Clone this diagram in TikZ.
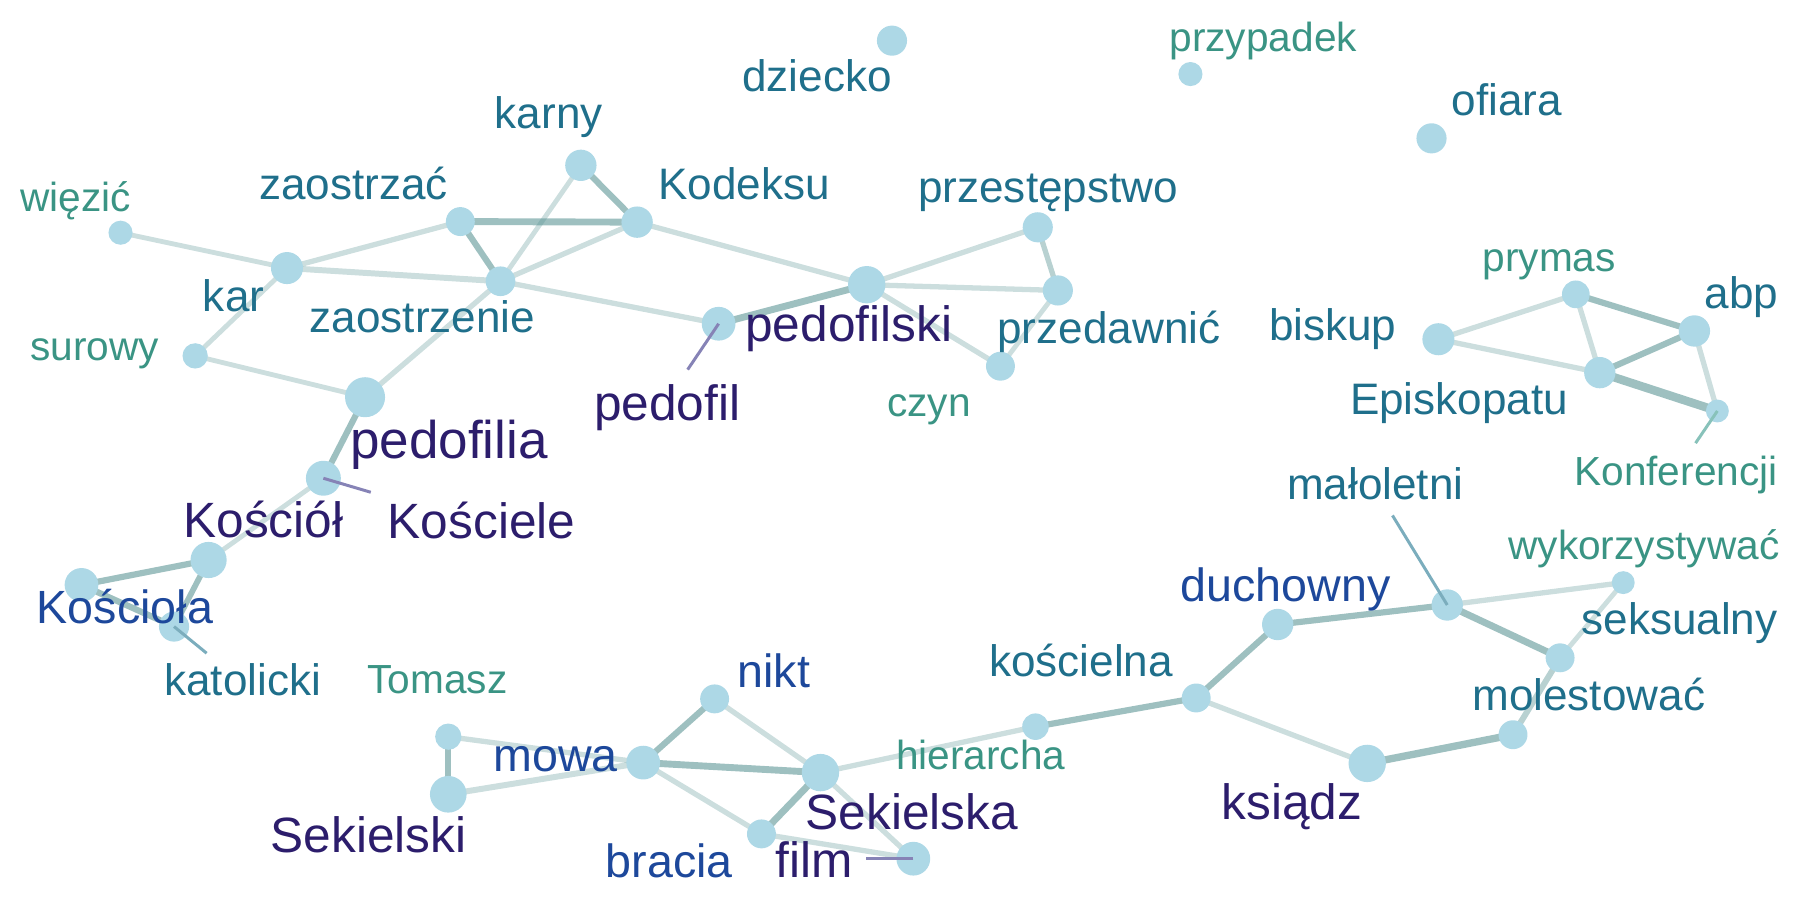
\documentclass[tikz,border=0pt]{standalone}
\usepackage{fontspec}
\setmainfont{Liberation Sans}
\definecolor{cpurple}{RGB}{44,29,108}
\definecolor{cblue}{RGB}{29,72,155}
\definecolor{cteal}{RGB}{31,111,139}
\definecolor{cgreen}{RGB}{58,148,132}
\definecolor{nodefill}{HTML}{ADD8E6}
\definecolor{ebase}{RGB}{85,145,145}
\definecolor{kpurple}{HTML}{8683B6}
\definecolor{kteal}{HTML}{7BADBD}
\definecolor{kgreen}{HTML}{88C2BA}
\pgfdeclarelayer{edges}
\pgfsetlayers{edges,main}
\tikzset{
  vtx/.style={circle, fill=nodefill, draw=none, inner sep=0pt, minimum size=#1*1.05},
  lblbase/.style={anchor=base, inner sep=0pt, font=#1},
  lgreen/.style={lblbase=\fontsize{17.7}{18}\selectfont, text=cgreen},
  lteal/.style={lblbase=\fontsize{19.2}{19}\selectfont, text=cteal},
  lblue/.style={lblbase=\fontsize{20.3}{20}\selectfont, text=cblue},
  lpurple/.style={lblbase=\fontsize{21.6}{22}\selectfont, text=cpurple},
  lbig/.style={lblbase=\fontsize{23.1}{23}\selectfont, text=cpurple},
  el/.style={draw=ebase, draw opacity=0.3, line width=#1+0.3pt},
  em/.style={draw=ebase, draw opacity=0.42, line width=#1+0.3pt},
  ed/.style={draw=ebase, draw opacity=0.57, line width=#1+0.2pt},
  kp/.style={draw=kpurple, line width=1.3pt},
  kt/.style={draw=kteal, line width=1.3pt},
  kg/.style={draw=kgreen, line width=1.3pt},
}
\begin{document}
\begin{tikzpicture}[x=0.5pt, y=-0.5pt]
\useasboundingbox (0,0) rectangle (1568,784);
% ---------- vertices ----------
\node[vtx=12.5pt] (dziecko) at (777,35.4) {};
\node[vtx=10pt] (przypadek) at (1037,64.5) {};
\node[vtx=12.5pt] (ofiara) at (1247,120.5) {};
\node[vtx=10pt] (wiezic) at (105,202.7) {};
\node[vtx=12pt] (zaostrzac) at (401,193) {};
\node[vtx=13pt] (karny) at (506,144) {};
\node[vtx=13pt] (kodeksu) at (555,193.5) {};
\node[vtx=13.3pt] (kar) at (250,233.5) {};
\node[vtx=12.3pt] (zaostrzenie) at (436,245) {};
\node[vtx=10.5pt] (surowy) at (170,310) {};
\node[vtx=16.6pt] (pedofilia) at (318,346) {};
\node[vtx=14pt] (pedofil) at (626,282) {};
\node[vtx=15.5pt] (pedofilski) at (755,248) {};
\node[vtx=12.5pt] (przestepstwo) at (904,198) {};
\node[vtx=12.5pt] (przedawnic) at (921.5,253) {};
\node[vtx=12pt] (czyn) at (871.5,319) {};
\node[vtx=13.3pt] (biskup) at (1253,295.5) {};
\node[vtx=11.5pt] (prymas) at (1372.7,256.4) {};
\node[vtx=13pt] (abp) at (1476,288.3) {};
\node[vtx=13pt] (episkopatu) at (1393.6,324.6) {};
\node[vtx=9.5pt] (konferencji) at (1496,358) {};
\node[vtx=14.5pt] (koscielE) at (281.7,416.6) {};
\node[vtx=15pt] (kosciol) at (181.7,487.8) {};
\node[vtx=14pt] (kosciola) at (71,509.5) {};
\node[vtx=12.5pt] (katolicki) at (151.6,545.8) {};
\node[vtx=10.9pt] (tomasz) at (390.5,641.7) {};
\node[vtx=15.2pt] (sekielski) at (390.5,691.9) {};
\node[vtx=14pt] (mowa) at (560.3,664.3) {};
\node[vtx=12pt] (nikt) at (622.5,608.8) {};
\node[vtx=15.5pt] (sekielska) at (714.7,673) {};
\node[vtx=12pt] (bracia) at (663.3,726.4) {};
\node[vtx=14pt] (film) at (795.6,748) {};
\node[vtx=11pt] (hierarcha) at (902,633) {};
\node[vtx=12pt] (koscielna) at (1042,608) {};
\node[vtx=13pt] (duchowny) at (1113,544) {};
\node[vtx=13pt] (maloletni) at (1260.7,527) {};
\node[vtx=9.5pt] (wykorzystywac) at (1414,507.5) {};
\node[vtx=12pt] (seksualny) at (1359,573) {};
\node[vtx=12pt] (molestowac) at (1318,640) {};
\node[vtx=15.5pt] (ksiadz) at (1191,665) {};
% ---------- edges ----------
\begin{pgfonlayer}{edges}
\draw[el=1.8pt] (wiezic.center) -- (kar.center);
\draw[el=2pt] (kar.center) -- (zaostrzac.center);
\draw[el=2.3pt] (kar.center) -- (zaostrzenie.center);
\draw[el=1.8pt] (kar.center) -- (surowy.center);
\draw[el=1.8pt] (surowy.center) -- (pedofilia.center);
\draw[ed=2.8pt] (zaostrzac.center) -- (kodeksu.center);
\draw[ed=2.5pt] (zaostrzac.center) -- (zaostrzenie.center);
\draw[ed=2.5pt] (karny.center) -- (kodeksu.center);
\draw[el=1.8pt] (karny.center) -- (zaostrzenie.center);
\draw[el=2pt] (zaostrzenie.center) -- (kodeksu.center);
\draw[el=2pt] (zaostrzenie.center) -- (pedofil.center);
\draw[el=2pt] (zaostrzenie.center) -- (pedofilia.center);
\draw[el=2pt] (kodeksu.center) -- (pedofilski.center);
\draw[ed=2.8pt] (pedofil.center) -- (pedofilski.center);
\draw[el=2pt] (pedofilski.center) -- (przestepstwo.center);
\draw[el=2pt] (pedofilski.center) -- (przedawnic.center);
\draw[el=2pt] (pedofilski.center) -- (czyn.center);
\draw[em=2pt] (przestepstwo.center) -- (przedawnic.center);
\draw[el=1.8pt] (przedawnic.center) -- (czyn.center);
\draw[ed=2.5pt] (pedofilia.center) -- (koscielE.center);
\draw[el=1.8pt] (koscielE.center) -- (kosciol.center);
\draw[ed=2.5pt] (kosciol.center) -- (kosciola.center);
\draw[ed=2.3pt] (kosciol.center) -- (katolicki.center);
\draw[ed=2.5pt] (kosciola.center) -- (katolicki.center);
\draw[el=2pt] (biskup.center) -- (prymas.center);
\draw[el=2pt] (biskup.center) -- (episkopatu.center);
\draw[ed=2.5pt] (prymas.center) -- (abp.center);
\draw[el=2pt] (prymas.center) -- (episkopatu.center);
\draw[ed=2.5pt] (abp.center) -- (episkopatu.center);
\draw[el=2pt] (abp.center) -- (konferencji.center);
\draw[ed=3.5pt] (episkopatu.center) -- (konferencji.center);
\draw[ed=2.5pt] (tomasz.center) -- (sekielski.center);
\draw[el=2pt] (tomasz.center) -- (mowa.center);
\draw[el=2.3pt] (sekielski.center) -- (mowa.center);
\draw[ed=2.5pt] (mowa.center) -- (nikt.center);
\draw[ed=2.8pt] (mowa.center) -- (sekielska.center);
\draw[el=2pt] (mowa.center) -- (bracia.center);
\draw[el=2pt] (nikt.center) -- (sekielska.center);
\draw[ed=2.8pt] (sekielska.center) -- (bracia.center);
\draw[el=2pt] (sekielska.center) -- (film.center);
\draw[el=2pt] (bracia.center) -- (film.center);
\draw[el=2pt] (sekielska.center) -- (hierarcha.center);
\draw[ed=2.5pt] (hierarcha.center) -- (koscielna.center);
\draw[ed=2.5pt] (koscielna.center) -- (duchowny.center);
\draw[el=2pt] (koscielna.center) -- (ksiadz.center);
\draw[ed=2.5pt] (duchowny.center) -- (maloletni.center);
\draw[el=2pt] (maloletni.center) -- (wykorzystywac.center);
\draw[ed=2.8pt] (maloletni.center) -- (seksualny.center);
\draw[el=1.8pt] (seksualny.center) -- (wykorzystywac.center);
\draw[em=2.3pt] (seksualny.center) -- (molestowac.center);
\draw[ed=3pt] (molestowac.center) -- (ksiadz.center);
\end{pgfonlayer}
% ---------- label leader lines ----------
\coordinate (c-koscielE) at (323,428.8);
\coordinate (c-pedofil) at (599,322);
\coordinate (c-film) at (754.7,748);
\coordinate (c-katolicki) at (180,569);
\coordinate (c-maloletni) at (1213,449);
\coordinate (c-konferencji) at (1477,386);
\draw[kp] (koscielE.center) -- (c-koscielE);
\draw[kp] (pedofil.center) -- (c-pedofil);
\draw[kp] (film.center) -- (c-film);
\draw[kt] (katolicki.center) -- (c-katolicki);
\draw[kt] (maloletni.center) -- (c-maloletni);
\draw[kg] (konferencji.center) -- (c-konferencji);
% ---------- labels ----------
\node[lteal] (l-dziecko) at (711.7,79.8) {dziecko};
\node[lgreen] (l-przypadek) at (1100.4,45) {przypadek};
\node[lteal] (l-ofiara) at (1312.5,101) {ofiara};
\node[lgreen] (l-wiezic) at (65.7,184.4) {więzić};
\node[lteal] (l-zaostrzac) at (308,173.6) {zaostrzać};
\node[lteal] (l-karny) at (478,112) {karny};
\node[lteal] (l-kodeksu) at (648,174) {Kodeksu};
\node[lteal] (l-kar) at (203.5,271.5) {kar};
\node[lteal] (l-zaostrzenie) at (368,290) {zaostrzenie};
\node[lgreen] (l-surowy) at (82.5,313.6) {surowy};
\node[lbig] (l-pedofilia) at (391,399) {pedofilia};
\node[lteal] (l-przestepstwo) at (913,176.5) {przestępstwo};
\node[lpurple] (l-pedofilski) at (739.3,297.6) {pedofilski};
\node[lteal] (l-przedawnic) at (966,299) {przedawnić};
\node[lpurple] (l-pedofil) at (581.3,366.4) {pedofil};
\node[lgreen] (l-czyn) at (809.2,363) {czyn};
\node[lgreen] (l-prymas) at (1349.5,236.6) {prymas};
\node[lteal] (l-abp) at (1517,269) {abp};
\node[lteal] (l-biskup) at (1161,297) {biskup};
\node[lteal] (l-episkopatu) at (1271,361) {Episkopatu};
\node[lgreen] (l-konferencji) at (1460,423) {Konferencji};
\node[lteal] (l-maloletni) at (1198,435) {małoletni};
\node[lgreen] (l-wykorzystywac) at (1432,487) {wykorzystywać};
\node[lblue] (l-duchowny) at (1120,524) {duchowny};
\node[lteal] (l-seksualny) at (1463,553) {seksualny};
\node[lteal] (l-koscielna) at (941.7,589) {kościelna};
\node[lteal] (l-molestowac) at (1384,619) {molestować};
\node[lpurple] (l-ksiadz) at (1125.3,714) {ksiądz};
\node[lgreen] (l-hierarcha) at (854.3,670.7) {hierarcha};
\node[lpurple] (l-sekielska) at (794.4,723) {Sekielska};
\node[lblue] (l-nikt) at (674,599) {nikt};
\node[lblue] (l-mowa) at (484,672) {mowa};
\node[lgreen] (l-tomasz) at (381,604) {Tomasz};
\node[lpurple] (l-sekielski) at (321,742.4) {Sekielski};
\node[lblue] (l-bracia) at (583,764) {bracia};
\node[lpurple] (l-film) at (709,764) {film};
\node[lpurple] (l-kosciol) at (229.4,468) {Kościół};
\node[lpurple] (l-koscielE) at (419.5,469) {Kościele};
\node[lblue] (l-kosciola) at (108.8,543) {Kościoła};
\node[lteal] (l-katolicki) at (211.5,606) {katolicki};
\end{tikzpicture}
\end{document}
